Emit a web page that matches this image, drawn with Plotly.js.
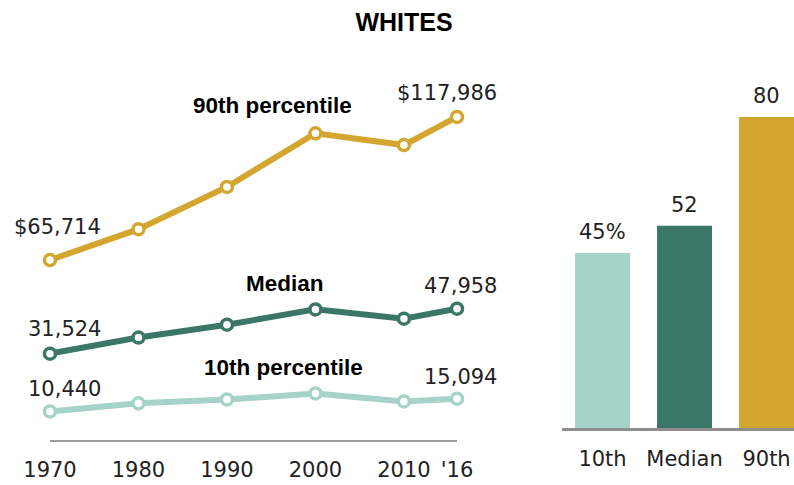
<!DOCTYPE html>
<html>
<head>
<meta charset="utf-8">
<script src="https://cdn.plot.ly/plotly-3.0.1.min.js"></script>
<style>html,body{margin:0;padding:0;background:#fff;}#chart{width:794px;height:485px;}</style>
</head>
<body>
<div id="chart"></div>
<script>
// ---- data ----
const years = [1970, 1980, 1990, 2000, 2010, 2016];
const yearLabels = ['1970', '1980', '1990', '2000', '2010', "'16"];
const p90 = [65714, 77000, 92400, 112000, 107700, 117986];
const median = [31524, 37400, 42100, 47700, 44300, 47958];
const p10 = [10440, 13400, 14800, 17000, 14100, 15094];
const seriesNames = ['90th percentile', 'Median', '10th percentile'];
const startLabels = ['$65,714', '31,524', '10,440'];
const endLabels = ['$117,986', '47,958', '15,094'];
const barCats = ['10th', 'Median', '90th'];
const barVals = [45, 52, 80];
const barLabels = ['45%', '52', '80'];

// ---- styles ----
const gold = '#D2A62F', dark = '#3A7767', light = '#A6D3C8';
const colors = [gold, dark, light];
const regFont = 'DejaVu Sans, sans-serif';
const boldFont = 'Liberation Sans, Arial, sans-serif';

const seriesData = [p90, median, p10];
const traces = seriesData.map((vals, i) => ({
  type: 'scatter', mode: 'lines+markers', x: years, y: vals,
  xaxis: 'x', yaxis: 'y', cliponaxis: false, hoverinfo: 'skip',
  line: {color: colors[i], width: 6},
  marker: {size: 11, color: '#fff', line: {color: colors[i], width: 3.5}}
}));

traces.push({
  type: 'bar', x: barCats, y: barVals, xaxis: 'x2', yaxis: 'y2',
  marker: {color: colors.slice().reverse()}, hoverinfo: 'skip', cliponaxis: false
});

const annotations = [];
seriesData.forEach((vals, i) => {
  const ys = [33, 25, 22][i];
  annotations.push({x: years[0], y: vals[0], xref: 'x', yref: 'y', text: startLabels[i],
    showarrow: false, xanchor: 'right', yanchor: 'middle', xshift: 53, yshift: ys,
    font: {family: regFont, size: 21, color: '#222'}});
  const ye = [24, 23, 22][i];
  annotations.push({x: years[years.length - 1], y: vals[vals.length - 1], xref: 'x', yref: 'y', text: endLabels[i],
    showarrow: false, xanchor: 'right', yanchor: 'middle', xshift: 42, yshift: ye,
    font: {family: regFont, size: 21, color: '#222'}});
});
const namePos = [[1995.1, 122300], [1996.6, 57300], [1996.4, 26300]];
seriesNames.forEach((n, i) => {
  annotations.push({x: namePos[i][0], y: namePos[i][1], xref: 'x', yref: 'y', text: '<b>' + n + '</b>',
    showarrow: false, xanchor: 'center', yanchor: 'middle',
    font: {family: boldFont, size: 22.5, color: '#000'}});
});
barCats.forEach((c, i) => {
  annotations.push({x: c, y: barVals[i], xref: 'x2', yref: 'y2', text: barLabels[i],
    showarrow: false, xanchor: 'center', yanchor: 'bottom', yshift: 7,
    font: {family: regFont, size: 21, color: '#222'}});
});

const layout = {
  width: 794, height: 485,
  margin: {l: 0, r: 0, t: 0, b: 0},
  paper_bgcolor: '#fff', plot_bgcolor: '#fff',
  showlegend: false,
  title: {text: '<b>WHITES</b>', x: 0.5088, y: 0.9546, xanchor: 'center', yanchor: 'middle',
    font: {family: boldFont, size: 25, color: '#000'}},
  xaxis: {domain: [0.06297, 0.57557], range: [1970, 2016], tickvals: years, ticktext: yearLabels,
    showgrid: false, zeroline: false, showline: true, linecolor: '#9B9B9B', linewidth: 2,
    ticks: 'outside', ticklen: 10, tickcolor: 'rgba(0,0,0,0)',
    tickfont: {family: regFont, size: 21, color: '#222'}, fixedrange: true},
  yaxis: {domain: [0.09278, 0.82680], range: [0, 130000], visible: false, fixedrange: true},
  xaxis2: {domain: [0.70718, 1.0], range: [-0.5, 2.335], anchor: 'y2', type: 'category',
    showgrid: false, zeroline: false, showline: true, linecolor: '#8E8E8E', linewidth: 3,
    ticks: 'outside', ticklen: 10, tickcolor: 'rgba(0,0,0,0)',
    tickfont: {family: regFont, size: 21, color: '#222'}, fixedrange: true},
  yaxis2: {domain: [0.11753, 0.83918], range: [0, 90], anchor: 'x2', visible: false, fixedrange: true},
  bargap: 0.33,
  annotations: annotations
};

Plotly.newPlot('chart', traces, layout, {displayModeBar: false, staticPlot: true});
</script>
</body>
</html>
